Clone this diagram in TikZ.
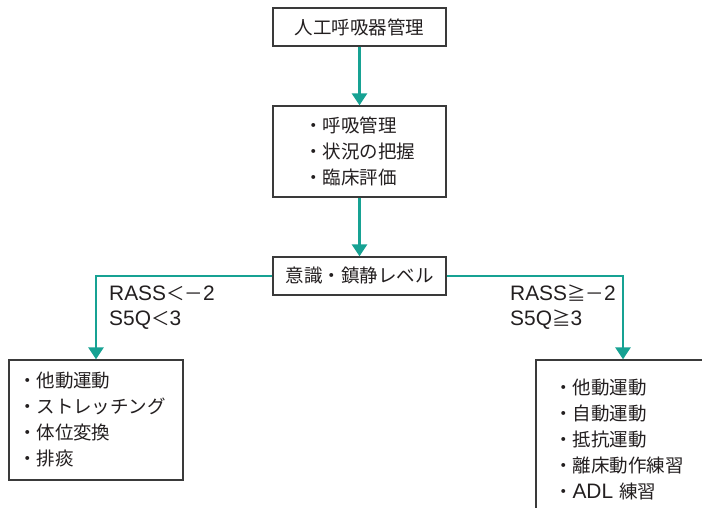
\documentclass[tikz,border=0pt]{standalone}
\usepackage{fontspec}
\setmainfont{Noto Sans CJK JP}
\newfontfamily\lat[Scale=1.13]{Liberation Sans}
\usetikzlibrary{arrows.meta}
\definecolor{teal1}{HTML}{17A293}
\definecolor{bord}{HTML}{3A3A3A}
\definecolor{txt}{HTML}{231F20}
\begin{document}
\begin{tikzpicture}[x=1pt,y=-1pt,
  box/.style={draw=bord, line width=1.3pt, fill=white, text=txt, font=\fontsize{18.5}{26}\selectfont, inner sep=0pt},
  arr/.style={draw=teal1, line width=2.6pt, -{Triangle[width=15pt,length=12pt]}},
  lbl/.style={text=txt, font=\fontsize{18.5}{25}\selectfont, align=left, inner sep=0pt, anchor=west}]
\useasboundingbox (0,0) rectangle (702,507);
\clip (0,0) rectangle (702,507);
\node[box, minimum width=173pt, minimum height=38pt] (b1) at (359.5,27) {人工呼吸器管理};
\node[box, minimum width=173pt, minimum height=91pt, align=left] (b2) at (359.5,151.5) {・呼吸管理\\・状況の把握\\・臨床評価};
\node[box, minimum width=173pt, minimum height=38pt] (b3) at (359.5,276) {意識・鎮静レベル};
\node[box, minimum width=174pt, minimum height=120pt, text width=156pt, align=left] (lb) at (96,420) {・他動運動\\・ストレッチング\\・体位変換\\・排痰};
\node[box, minimum width=174pt, minimum height=160pt, text width=138pt, align=left] (rb) at (623,440) {・他動運動\\・自動運動\\・抵抗運動\\・離床動作練習\\・{\lat ADL} 練習};
\draw[arr] (b1) -- (b2);
\draw[arr] (b2) -- (b3);
\draw[arr] (b3.west) -| (lb.north);
\draw[arr] (b3.east) -| (rb.north);
\node[lbl] (l1) at (109,307.5) {{\lat RASS}＜－{\lat 2}\\{\lat S5Q}＜{\lat 3}};
\node[lbl] (l2) at (510,307.5) {{\lat RASS}≧－{\lat 2}\\{\lat S5Q}≧{\lat 3}};
\end{tikzpicture}
\end{document}
